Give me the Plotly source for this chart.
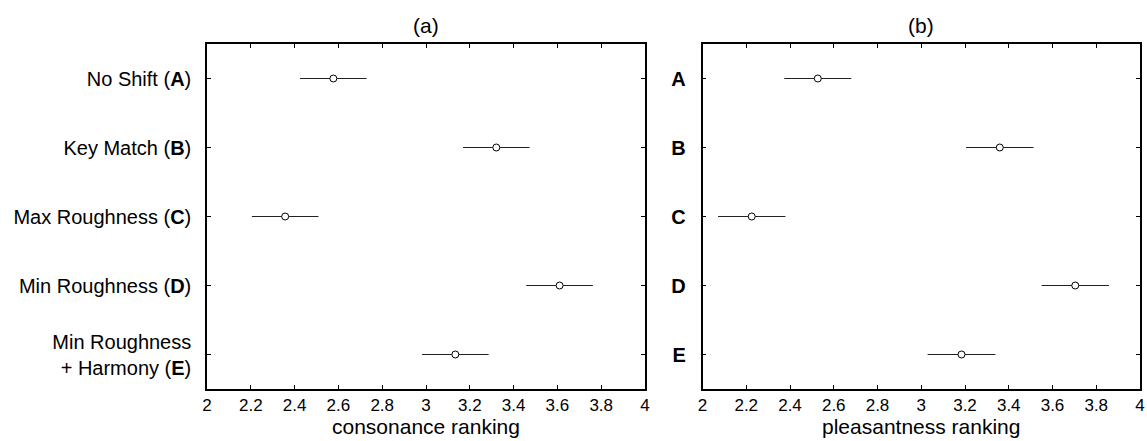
import plotly.graph_objects as go

# ---------------- data ----------------
conditions = [
    "No Shift (<b>A</b>)",
    "Key Match (<b>B</b>)",
    "Max Roughness (<b>C</b>)",
    "Min Roughness (<b>D</b>)",
    "Min Roughness<br>+ Harmony (<b>E</b>)",
]
letters = ["<b>A</b>", "<b>B</b>", "<b>C</b>", "<b>D</b>", "<b>E</b>"]

consonance_mean = [2.577, 3.321, 2.357, 3.610, 3.134]
consonance_err = [0.152, 0.152, 0.152, 0.152, 0.152]

pleasantness_mean = [2.527, 3.359, 2.225, 3.704, 3.184]
pleasantness_err = [0.153, 0.154, 0.154, 0.154, 0.155]

x_tick_vals = [2, 2.2, 2.4, 2.6, 2.8, 3, 3.2, 3.4, 3.6, 3.8, 4]
x_tick_text = ["2", "2.2", "2.4", "2.6", "2.8", "3", "3.2", "3.4", "3.6", "3.8", "4"]

panel_titles = ["(a)", "(b)"]
x_titles = ["consonance ranking", "pleasantness ranking"]

# ---------------- figure ----------------
W, H = 1147, 441
FONT = "Arial, Liberation Sans, Helvetica, sans-serif"

fig = go.Figure()

marker = dict(symbol="circle", size=7, color="white", line=dict(color="black", width=1))

def err(arr):
    return dict(type="data", array=arr, symmetric=True, color="#222222",
                thickness=1.2, width=0)

fig.add_trace(go.Scatter(
    x=consonance_mean, y=conditions, mode="markers",
    error_x=err(consonance_err), marker=marker,
    xaxis="x", yaxis="y", showlegend=False,
))
fig.add_trace(go.Scatter(
    x=pleasantness_mean, y=letters, mode="markers",
    error_x=err(pleasantness_err), marker=marker,
    xaxis="x2", yaxis="y2", showlegend=False,
))

dom_a = [207 / W, 645 / W]
dom_b = [702.5 / W, 1140 / W]

def xax(domain, anchor, title):
    return dict(
        domain=domain, anchor=anchor, range=[2, 4],
        tickmode="array", tickvals=x_tick_vals, ticktext=x_tick_text,
        ticks="inside", ticklen=4, tickwidth=1, tickcolor="black",
        mirror="ticks", showline=True, linecolor="black", linewidth=1.5,
        showgrid=False, zeroline=False, automargin=False,
        tickfont=dict(size=17, color="black", family=FONT),
        title=dict(text=title, font=dict(size=21, color="black", family=FONT), standoff=4),
    )

def yax(anchor, cats, size, standoff):
    return dict(
        domain=[0, 1], anchor=anchor, type="category",
        categoryorder="array", categoryarray=cats, range=[4.5, -0.5],
        ticks="inside", ticklen=4, tickwidth=1, tickcolor="black",
        mirror="ticks", showline=True, linecolor="black", linewidth=1.5,
        showgrid=False, zeroline=False, automargin=False,
        ticklabelstandoff=standoff,
        tickfont=dict(size=size, color="black", family=FONT),
    )

fig.update_layout(
    width=W, height=H,
    margin=dict(l=0, r=0, t=44, b=52),
    paper_bgcolor="white", plot_bgcolor="white",
    font=dict(family=FONT, color="black"),
    xaxis=xax(dom_a, "y", x_titles[0]),
    yaxis=yax("x", conditions, 20, 10),
    xaxis2=xax(dom_b, "y2", x_titles[1]),
    yaxis2=yax("x2", letters, 20, 11),
    showlegend=False,
)

for dom, t in zip([dom_a, dom_b], panel_titles):
    fig.add_annotation(
        text=t, x=(dom[0] + dom[1]) / 2, y=1 + (44 - 25) / (H - 44 - 52),
        xref="paper", yref="paper", xanchor="center", yanchor="middle",
        showarrow=False, font=dict(size=21, color="black", family=FONT),
    )

fig.write_html(
    "out.html",
    config={"displayModeBar": False},
    post_script="document.body.style.margin='0';document.body.style.overflow='hidden';",
)
